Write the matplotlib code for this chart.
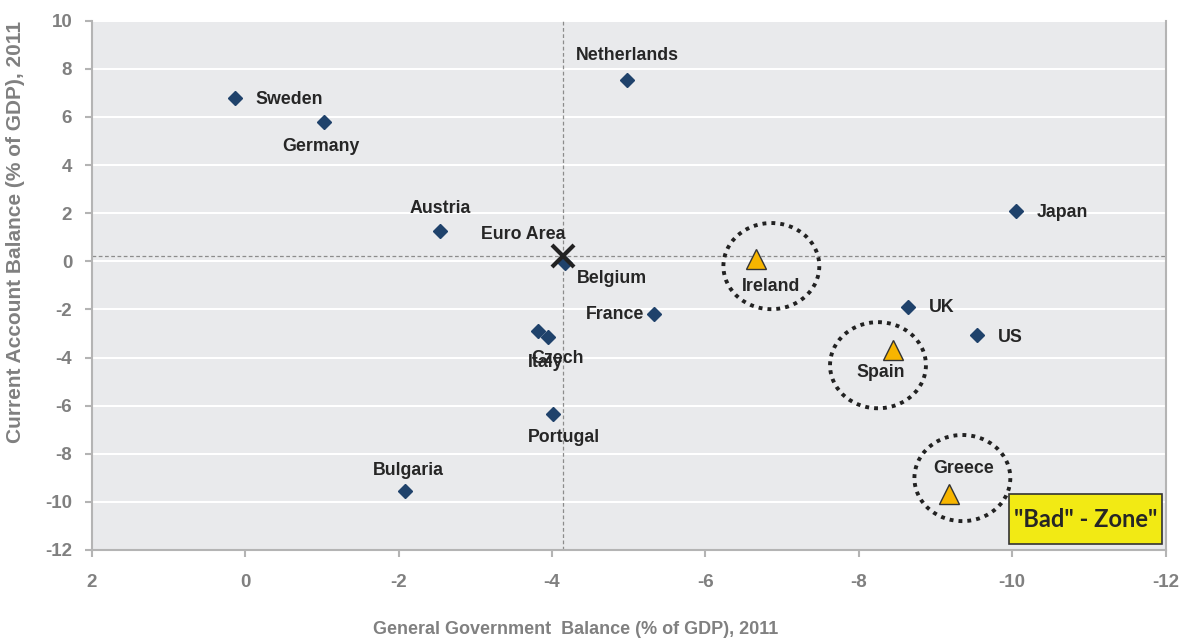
import matplotlib.pyplot as plt
from matplotlib.patches import Ellipse, Rectangle

plt.rcParams['font.family'] = ['Liberation Sans', 'DejaVu Sans']
plt.rcParams['axes.unicode_minus'] = False

# data: general government balance (x) vs current account balance (y), 2011
countries = ['Sweden', 'Germany', 'Netherlands', 'Austria', 'Belgium', 'France',
             'Czech', 'Italy', 'Portugal', 'Bulgaria', 'Japan', 'UK', 'US']
gov_bal = [0.13, -1.03, -4.98, -2.54, -4.17, -5.33, -3.82, -3.95, -4.01, -2.08, -10.05, -8.64, -9.54]
ca_bal = [6.77, 5.8, 7.54, 1.25, -0.08, -2.2, -2.9, -3.15, -6.33, -9.56, 2.09, -1.9, -3.07]

crisis = ['Ireland', 'Spain', 'Greece']
crisis_gov = [-6.66, -8.45, -9.18]
crisis_ca = [0.09, -3.7, -9.68]

euro_gov = -4.15
euro_ca = 0.2

# label offsets in pixels (dx, dy, ha)
offsets = {
    'Sweden': (20, -1, 'left'), 'Germany': (-3, -25, 'center'),
    'Netherlands': (0, 24, 'center'), 'Austria': (0, 23, 'center'),
    'Belgium': (12, -15, 'left'), 'France': (-10, 0, 'right'),
    'Czech': (19, -27, 'center'), 'Italy': (-2, -25, 'center'),
    'Portugal': (11, -24, 'center'), 'Bulgaria': (4, 21, 'center'),
    'Japan': (21, -1, 'left'), 'UK': (21, -1, 'left'), 'US': (21, -2, 'left'),
    'Ireland': (15, -27, 'center'), 'Spain': (-13, -22, 'center'),
    'Greece': (14, 26, 'center'),
}
# circle centres around the crisis countries
circ_x = [-6.86, -8.25, -9.35]
circ_y = [-0.2, -4.32, -9.01]

fig = plt.figure(figsize=(11.92, 6.39), dpi=100)
ax = fig.add_axes([0.0769, 0.1393, 0.901, 0.8283])
ax.set_facecolor('#e9eaec')

ax.set_xlim(2, -12)
ax.set_ylim(-12, 10)
ax.set_xticks(range(2, -13, -2))
ax.set_yticks(range(-12, 11, 2))
ax.grid(axis='y', color='white', lw=1.5)
ax.set_axisbelow(True)

for s in ['left', 'bottom', 'right']:
    ax.spines[s].set_color('#b4b4b4')
    ax.spines[s].set_linewidth(1.5)
ax.spines['top'].set_visible(False)
ax.tick_params(colors='#b4b4b4', labelcolor='#808080', labelsize=13.5, length=5, width=1.5)
ax.tick_params(axis='x', pad=12)
ax.tick_params(axis='y', pad=9)
for lab in ax.get_xticklabels() + ax.get_yticklabels():
    lab.set_fontweight('bold')

ax.axvline(euro_gov, color='#8c8c8c', lw=0.9, ls=(0, (3, 2)), zorder=1)
ax.axhline(euro_ca, color='#8c8c8c', lw=0.9, ls=(0, (3, 2)), zorder=1)

ax.plot(gov_bal, ca_bal, 'D', color='#1f426b', ms=7, zorder=3)
ax.plot(crisis_gov, crisis_ca, '^', color='#f7b500', mec='#333333', mew=1, ms=14, zorder=3)
ax.plot([euro_gov], [euro_ca], 'x', color='#222222', ms=16, mew=3, zorder=4)

for name, x, y in zip(countries + crisis, gov_bal + crisis_gov, ca_bal + crisis_ca):
    dx, dy, ha = offsets[name]
    ax.annotate(name, (x, y), xytext=(dx, dy), textcoords='offset pixels',
                ha=ha, va='center', fontsize=12.8, fontweight='bold', color='#262626')
ax.annotate('Euro Area', (euro_gov, euro_ca), xytext=(2, 22), textcoords='offset pixels',
            ha='right', va='center', fontsize=12.8, fontweight='bold', color='#262626')

for cx, cy in zip(circ_x, circ_y):
    ax.add_patch(Ellipse((cx, cy), 1.25, 3.58, fill=False, ec='#222222', lw=2.8,
                         ls=(0, (1, 1.3)), zorder=2))

ax.add_patch(Rectangle((0.854, 0.0113), 0.1423, 0.0945, transform=ax.transAxes,
                       fc='#f2ea14', ec='#333333', lw=1.2, zorder=5))
ax.text(0.9252, 0.0585, '"Bad" - Zone"', transform=ax.transAxes, ha='center', va='center',
        fontsize=17, fontweight='bold', color='#262626', family=['Lato', 'DejaVu Sans'], zorder=6)

ax.set_xlabel('General Government  Balance (% of GDP), 2011', fontsize=13,
              fontweight='bold', color='#808080')
ax.set_ylabel('Current Account Balance (% of GDP), 2011', fontsize=15,
              fontweight='bold', color='#808080')
ax.xaxis.set_label_coords(0.4508, -0.134)
ax.yaxis.set_label_coords(-0.0621, 0.601)

fig.savefig('out.png', dpi=100)
